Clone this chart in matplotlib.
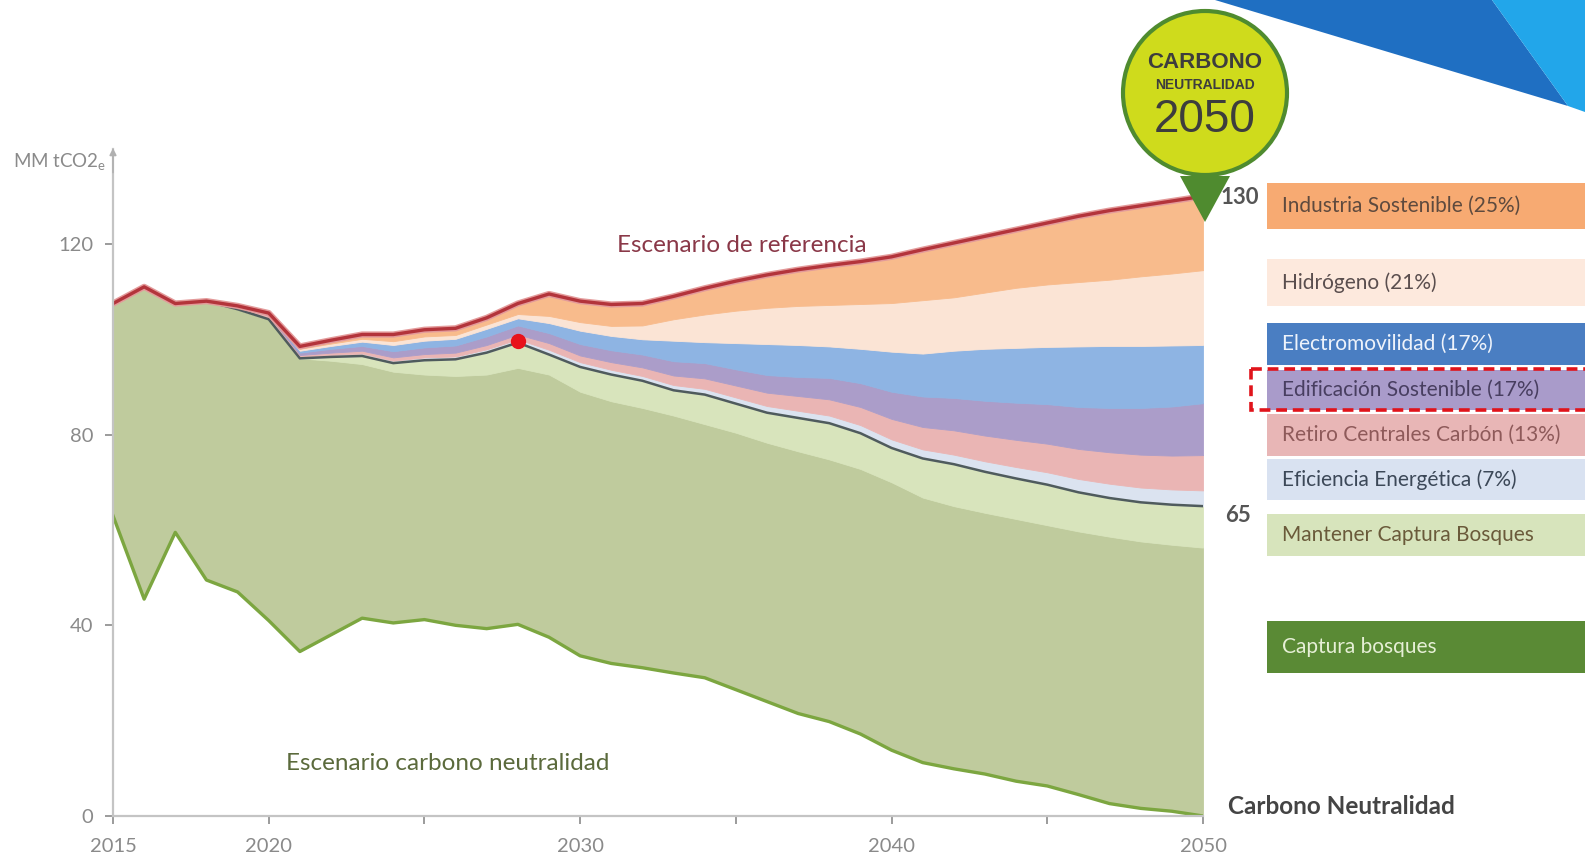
import numpy as np
import matplotlib
matplotlib.use("Agg")
import matplotlib.pyplot as plt
from matplotlib.patches import Rectangle, Circle, Polygon

plt.rcParams["font.family"] = ["Lato", "DejaVu Sans"]
plt.rcParams["mathtext.default"] = "regular"

years = list(range(2015, 2051))

# MM tCO2e por año (bandas apiladas, de abajo hacia arriba)
neta = [63, 45.5, 59.5, 49.5, 47, 41, 34.5, 38, 41.5, 40.5, 41.2, 40, 39.3, 40.2, 37.5, 33.6,
        32, 31.1, 30, 29, 26.5, 24, 21.5, 19.8, 17.2, 13.8, 11.2, 9.9, 8.8, 7.3, 6.3, 4.5, 2.6, 1.6, 1.0, 0]
captura_bosques = [44.5, 65.5, 48, 58.5, 59.3, 63.2, 61.5, 57.5, 53.3, 52.7, 51.4, 52.3, 53.3, 53.8, 55.1, 55.4,
                   55, 54.5, 54, 53.2, 53.9, 54.3, 55, 55, 55.6, 56.2, 55.6, 55.1, 54.8, 55, 54.7, 55.2, 56, 56, 55.9, 56.3]
mantener_captura = [0, 0, 0, 0, 0, 0, 0, 0.8, 1.7, 1.8, 3.0, 3.5, 4.6, 5.3, 4.2, 5.2,
                    5.6, 5.7, 5.3, 6.2, 6.1, 6.3, 7.0, 7.6, 7.5, 7.2, 8.2, 8.8, 8.6, 8.5, 8.5, 8.2, 8.1, 8.2, 8.4, 8.7]
eficiencia = [0, 0, 0, 0, 0.2, 0.3, 0.3, 0.4, 0.5, 0.5, 0.6, 0.6, 0.7, 0.7, 1.0, 1.0,
              1.0, 1.0, 1.1, 1.2, 1.3, 1.4, 1.5, 1.6, 1.7, 1.8, 1.9, 2.0, 2.2, 2.4, 2.6, 2.8, 3.0, 3.1, 3.2, 3.3]
retiro_carbon = [0, 0, 0, 0, 0.5, 0.5, 0.4, 0.5, 0.6, 0.7, 0.7, 0.8, 0.9, 1.0, 1.4, 1.4,
                 1.6, 1.8, 2.0, 2.2, 2.5, 2.8, 3.1, 3.4, 3.8, 4.3, 4.7, 5.1, 5.4, 5.7, 6.0, 6.3, 6.6, 6.9, 7.1, 7.4]
edificacion = [0, 0, 0, 0, 0, 0.2, 0.5, 0.8, 1.0, 1.3, 1.4, 1.5, 1.8, 1.9, 2.1, 2.4,
               2.5, 2.7, 3.0, 3.2, 3.4, 3.7, 4.0, 4.5, 5.0, 5.7, 6.4, 6.8, 7.3, 7.8, 8.3, 8.8, 9.3, 9.8, 10.3, 10.9]
electromovilidad = [0, 0, 0, 0, 0, 0.1, 0.4, 0.6, 0.9, 1.3, 1.4, 1.4, 1.6, 1.5, 2.1, 2.8,
                    3.0, 3.2, 4.3, 4.4, 5.5, 6.5, 6.7, 6.6, 7.2, 8.4, 9.0, 9.9, 10.9, 11.5, 12.0, 12.7, 13.0, 13.0, 12.8, 12.2]
hidrogeno = [0, 0, 0, 0, 0, 0.1, 0.4, 0.5, 0.6, 0.8, 0.9, 0.8, 0.9, 0.9, 1.5, 1.8,
             2.1, 2.9, 4.5, 5.8, 6.8, 7.6, 8.2, 8.7, 9.4, 10.2, 11.2, 11.2, 11.8, 12.6, 13.1, 13.5, 13.9, 14.6, 15.1, 15.7]
industria = [0, 0, 0, 0, 0, 0.1, 0.5, 0.7, 0.9, 1.4, 1.4, 1.4, 1.4, 2.2, 4.6, 4.4,
             4.5, 4.6, 4.8, 5.5, 6.2, 6.9, 7.6, 8.3, 8.9, 9.7, 10.6, 11.4, 11.8, 12.2, 12.9, 13.8, 14.5, 14.8, 15.2, 15.5]

year_dot = 2028

x_ticks = [2015, 2020, 2025, 2030, 2035, 2040, 2045, 2050]
x_labels = ["2015", "2020", "", "2030", "", "2040", "", "2050"]
y_ticks = [0, 40, 80, 120]

legend_labels = ["Industria Sostenible (25%)", "Hidrógeno (21%)", "Electromovilidad (17%)",
                 "Edificación Sostenible (17%)", "Retiro Centrales Carbón (13%)",
                 "Eficiencia Energética (7%)", "Mantener Captura Bosques", "Captura bosques"]

W, H = 1585, 864
fig = plt.figure(figsize=(W / 100, H / 100), dpi=100)
fig.patch.set_facecolor("white")

# plot area: 2015 at x=113 px, 2050 at x=1203 px, y=0 at 816 px, y=140 at ~149 px
ax = fig.add_axes([113 / W, (H - 816) / H, (1203 - 113) / W, (816 - 148.6) / H])
ax.set_xlim(2015, 2050)
ax.set_ylim(0, 140)

band_colors = ["none", "#bfcb9d", "#d8e4bc", "#dbe3f0", "#eab5b4", "#ab9dc9",
               "#8eb4e3", "#fbe4d5", "#f8bb8c"]
layers = [neta, captura_bosques, mantener_captura, eficiencia, retiro_carbon,
          edificacion, electromovilidad, hidrogeno, industria]
ax.stackplot(years, *layers, colors=band_colors, edgecolor="face", linewidth=0.6)

stack = np.cumsum(np.array(layers), axis=0)
con_medidas = stack[2]
referencia = stack[-1]

ax.plot(years, neta, color="#7ca640", lw=2.4, solid_joinstyle="round")
ax.plot(years, con_medidas, color="#4f5b5d", lw=1.8, solid_joinstyle="round")
ax.plot(years, referencia, color="#e39a9a", lw=4.5, solid_joinstyle="round")
ax.plot(years, referencia, color="#b3343b", lw=2.4, solid_joinstyle="round")
i_dot = years.index(year_dot)
ax.plot([year_dot], [con_medidas[i_dot] + 0.3], "o", color="#e8121b", ms=10, zorder=5)

for s in ["top", "right"]:
    ax.spines[s].set_visible(False)
for s in ["left", "bottom"]:
    ax.spines[s].set_color("#c4c4c4")
    ax.spines[s].set_linewidth(1.6)
ax.set_xticks(x_ticks)
ax.set_xticklabels(x_labels)
ax.set_yticks(y_ticks)
ax.tick_params(colors="#8a8a8a", labelsize=14.5, length=6, width=1.2, pad=8)
ax.tick_params(axis="x", pad=10)
ax.annotate("", xy=(0, 1.005), xytext=(0, 0.96), xycoords="axes fraction",
            arrowprops=dict(arrowstyle="-|>", color="#b0b0b0", lw=1.2, mutation_scale=10))

ax.text(2035.2, 119.6, "Escenario de referencia", color="#8a3848", fontsize=17.5,
        ha="center", va="center")
ax.text(2025.75, 11, "Escenario carbono neutralidad", color="#5b6a3c", fontsize=17.5,
        ha="center", va="center")

# overlay in pixel coordinates for annotations
ov = fig.add_axes([0, 0, 1, 1], zorder=10)
ov.set_xlim(0, W)
ov.set_ylim(H, 0)
ov.axis("off")
ov.patch.set_alpha(0)

ov.text(106, 162, "MM tCO2$_e$", color="#8a8a8a", fontsize=13.5, ha="right", va="center")

ov.add_patch(Polygon([(1215, 0), (1492, 0), (1568, 106)], closed=True, color="#1f6fc2", lw=0))
ov.add_patch(Polygon([(1492, 0), (1585, 0), (1585, 112), (1568, 106)], closed=True,
                     color="#22a6ea", lw=0))

ov.text(1221, 198, "130", color="#555555", fontsize=16, fontweight="bold", ha="left", va="center")
ov.text(1238, 515, "65", color="#555555", fontsize=16, fontweight="bold", ha="center", va="center")
ov.text(1228, 806, "Carbono Neutralidad", color="#444444", fontsize=17.5, fontweight="bold",
        ha="left", va="center")

box_y = [(183, 229), (259, 306), (323, 365), (370, 410), (414, 456), (459, 500),
         (514, 556), (621, 673)]
box_face = ["#f7aa72", "#fde9dd", "#4a7ec2", "#a99bca", "#e8b6b6", "#d9e2f1", "#d7e4bc", "#5a8a35"]
box_text = ["#5e4a3e", "#5a4e4e", "#eef3fb", "#483e60", "#8e5a5a", "#3c4858", "#6a5a3a", "#e6efd6"]
for lab, (y0, y1), fc, tc in zip(legend_labels, box_y, box_face, box_text):
    ov.add_patch(Rectangle((1267, y0), W - 1267, y1 - y0, facecolor=fc, lw=0))
    ov.text(1282, (y0 + y1) / 2, lab, color=tc, fontsize=15, ha="left", va="center")

ov.add_patch(Rectangle((1251, 369), W + 10 - 1251, 41, fill=False, edgecolor="#e0141b",
                       lw=2.6, linestyle=(0, (3, 1.6))))

# badge (pin drawn over the "130" label, as in the original)
ov.add_patch(Polygon([(1180, 176), (1230, 176), (1205, 222)], closed=True, color="#4f8b2f",
                     lw=0, zorder=4))
ov.add_patch(Circle((1205, 93), 82, facecolor="#cfdb1c", edgecolor="#4f8b2f", lw=3, zorder=4))
narrow = ["Liberation Sans", "DejaVu Sans"]
ov.text(1205, 62, "CARBONO", family=narrow, fontweight="bold", fontsize=16, color="#3d3d3d",
        ha="center", va="center", zorder=5)
ov.text(1205, 85, "NEUTRALIDAD", family=narrow, fontweight="bold", fontsize=10, color="#3d3d3d",
        ha="center", va="center", zorder=5)
ov.text(1205, 120, "2050", family=narrow, fontsize=33, color="#3d3d3d", ha="center", va="center",
        zorder=5)

fig.savefig("out.png", dpi=100)
